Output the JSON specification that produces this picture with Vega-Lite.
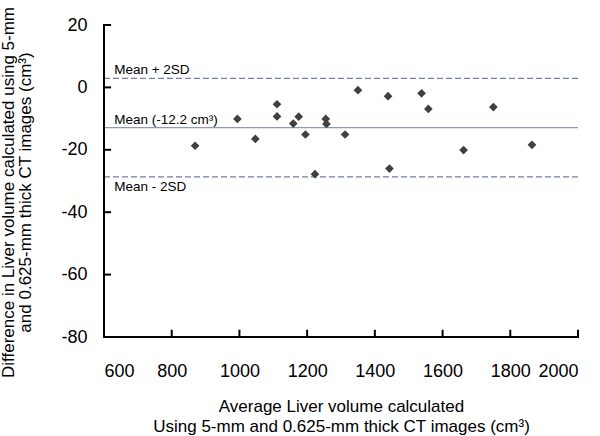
{
  "$schema": "https://vega.github.io/schema/vega-lite/v6.json",
  "width": 474,
  "height": 312,
  "autosize": {"type": "none"},
  "padding": {"left": 104, "top": 25, "right": 22, "bottom": 99},
  "background": "white",
  "config": {
    "view": {"stroke": null},
    "font": "Liberation Sans",
    "axis": {"grid": false, "ticks": false, "domain": false, "labelColor": "black", "titleColor": "black", "labelFont": "Liberation Sans", "titleFont": "Liberation Sans", "titleFontWeight": "normal"}
  },
  "datasets": {
    "pts": [
      {"avg": 869, "diff": -18.7},
      {"avg": 994, "diff": -10.1},
      {"avg": 1047, "diff": -16.5},
      {"avg": 1111, "diff": -5.4},
      {"avg": 1111, "diff": -9.3},
      {"avg": 1159, "diff": -11.6},
      {"avg": 1175, "diff": -9.4},
      {"avg": 1195, "diff": -15.1},
      {"avg": 1223, "diff": -27.8},
      {"avg": 1255, "diff": -10.1},
      {"avg": 1257, "diff": -11.7},
      {"avg": 1312, "diff": -15.1},
      {"avg": 1350, "diff": -0.9},
      {"avg": 1439, "diff": -2.8},
      {"avg": 1443, "diff": -26.0},
      {"avg": 1538, "diff": -1.9},
      {"avg": 1558, "diff": -6.9},
      {"avg": 1662, "diff": -20.1},
      {"avg": 1750, "diff": -6.3},
      {"avg": 1864, "diff": -18.4}
    ],
    "lines": [
      {"name": "upper", "y": 2.9, "label": "Mean + 2SD"},
      {"name": "mean", "y": -12.9, "label": "Mean (-12.2 cm³)"},
      {"name": "lower", "y": -28.7, "label": "Mean - 2SD"}
    ],
    "frame": [
      {"x0": 600, "x1": 2000, "y0": -80, "y1": -80},
      {"x0": 600, "x1": 600, "y0": -80, "y1": 20},
      {"x0": 800, "x1": 800, "y0": -80, "y1": -78},
      {"x0": 1000, "x1": 1000, "y0": -80, "y1": -78},
      {"x0": 1200, "x1": 1200, "y0": -80, "y1": -78},
      {"x0": 1400, "x1": 1400, "y0": -80, "y1": -78},
      {"x0": 1600, "x1": 1600, "y0": -80, "y1": -78},
      {"x0": 1800, "x1": 1800, "y0": -80, "y1": -78},
      {"x0": 2000, "x1": 2000, "y0": -80, "y1": -78},
      {"x0": 600, "x1": 618, "y0": -60, "y1": -60},
      {"x0": 600, "x1": 618, "y0": -40, "y1": -40},
      {"x0": 600, "x1": 618, "y0": -20, "y1": -20},
      {"x0": 600, "x1": 618, "y0": 0, "y1": 0},
      {"x0": 600, "x1": 618, "y0": 20, "y1": 20}
    ]
  },
  "layer": [
    {
      "data": {"name": "lines"},
      "transform": [{"filter": "datum.name != 'mean'"}],
      "mark": {"type": "rule", "color": "#7080a8", "strokeWidth": 1.2, "strokeDash": [6, 3]},
      "encoding": {"y": {"field": "y", "type": "quantitative", "scale": {"domain": [-80, 20]}}}
    },
    {
      "data": {"name": "lines"},
      "transform": [{"filter": "datum.name == 'mean'"}],
      "mark": {"type": "rule", "color": "#8c9cb8", "strokeWidth": 1.2},
      "encoding": {"y": {"field": "y", "type": "quantitative"}}
    },
    {
      "data": {"name": "frame"},
      "mark": {"type": "rule", "color": "black", "strokeWidth": 2, "strokeCap": "square"},
      "encoding": {
        "x": {"field": "x0", "type": "quantitative"},
        "x2": {"field": "x1"},
        "y": {"field": "y0", "type": "quantitative"},
        "y2": {"field": "y1"}
      }
    },
    {
      "data": {"name": "lines"},
      "transform": [{"filter": "datum.name != 'lower'"}],
      "mark": {"type": "text", "align": "left", "baseline": "bottom", "dy": -1, "fontSize": 13.5, "color": "black", "font": "Liberation Sans"},
      "encoding": {
        "x": {"datum": 630, "type": "quantitative"},
        "y": {"field": "y", "type": "quantitative"},
        "text": {"field": "label"}
      }
    },
    {
      "data": {"name": "lines"},
      "transform": [{"filter": "datum.name == 'lower'"}],
      "mark": {"type": "text", "align": "left", "baseline": "top", "dy": 3, "fontSize": 13.5, "color": "black", "font": "Liberation Sans"},
      "encoding": {
        "x": {"datum": 630, "type": "quantitative"},
        "y": {"field": "y", "type": "quantitative"},
        "text": {"field": "label"}
      }
    },
    {
      "data": {"name": "pts"},
      "mark": {"type": "point", "shape": "diamond", "filled": true, "size": 76, "color": "#404040", "opacity": 1},
      "encoding": {
        "x": {
          "field": "avg", "type": "quantitative",
          "scale": {"domain": [600, 2000], "nice": false, "zero": false},
          "axis": {
            "values": [600, 800, 1000, 1200, 1400, 1600, 1800, 2000],
            "labelExpr": "datum.value + ''",
            "labelFontSize": 18, "labelPadding": 25,
            "title": ["Average Liver volume calculated", "Using 5-mm and 0.625-mm thick CT images (cm³)"],
            "titleFontSize": 17, "titlePadding": 18, "titleLineHeight": 20
          }
        },
        "y": {
          "field": "diff", "type": "quantitative",
          "scale": {"domain": [-80, 20], "nice": false, "zero": false},
          "axis": {
            "values": [-80, -60, -40, -20, 0, 20],
            "labelExpr": "datum.value + ''",
            "labelFontSize": 18, "labelPadding": 17,
            "title": ["Difference in  Liver volume calculated using 5-mm", "and 0.625-mm thick CT images (cm³)"],
            "titleFontSize": 17, "titlePadding": 26, "titleLineHeight": 17, "titleY": 167
          }
        }
      }
    }
  ]
}
